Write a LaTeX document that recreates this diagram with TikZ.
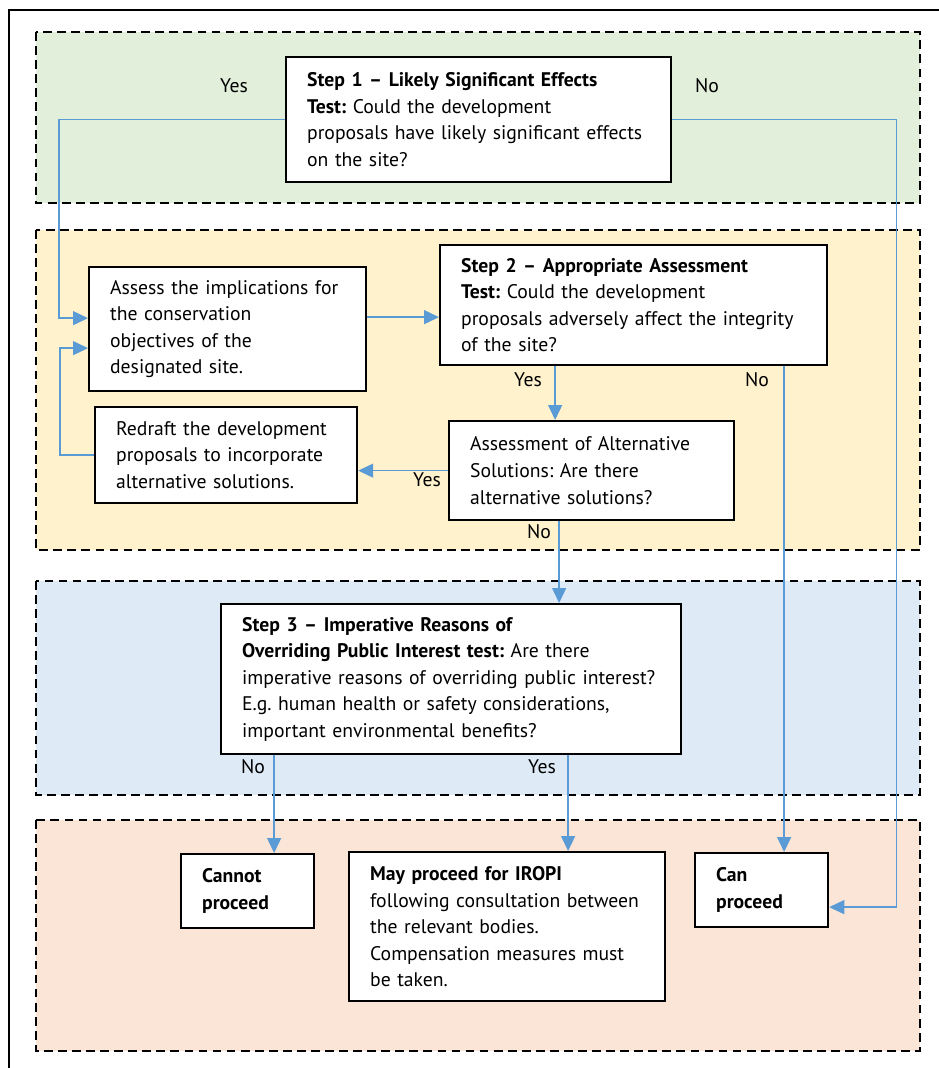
\documentclass[tikz,border=0pt]{standalone}
\usepackage{fontspec}
\setmainfont{PT Sans}
\usepackage{tikz}
\usetikzlibrary{arrows.meta}
\definecolor{stepgreen}{HTML}{E2EFDA}
\definecolor{stepyellow}{HTML}{FFF2CC}
\definecolor{stepblue}{HTML}{DEEBF7}
\definecolor{steporange}{HTML}{FBE5D6}
\definecolor{flowblue}{HTML}{5B9BD5}
\hyphenpenalty=10000
\frenchspacing
\tikzset{
panel/.style={draw=black, line width=1.1pt, dash pattern=on 5pt off 3pt},
stepbox/.style={draw=black, fill=white, line width=1.3pt, anchor=north west, align=left,
    inner xsep=0.42cm, inner ysep=0pt, font=\fontsize{11.2}{15.1}\selectfont},
answer/.style={font=\fontsize{11.2}{15.1}\selectfont},
flow/.style={draw=flowblue, line width=0.8pt, -{Triangle[length=0.3cm,width=0.28cm]}},
}
\begin{document}
\begin{tikzpicture}[x=0.02cm, y=-0.02cm]
    \useasboundingbox (0,0) rectangle (939,1068);
    \draw[line width=1.2pt] (9,1080) -- (9,10) -- (950,10);

                \filldraw[panel, fill=stepgreen] (36,32) rectangle (920,203);
                \filldraw[panel, fill=stepyellow] (36,230) rectangle (920,550);
                \filldraw[panel, fill=stepblue] (36,581) rectangle (920,795);
                \filldraw[panel, fill=steporange] (36,820) rectangle (920,1051);

                \node[stepbox, text width=6.86cm, minimum height=2.5cm] (s1) at (285,56)
                    {\textbf{Step 1 -- Likely Significant Effects}\\ \textbf{Test:} Could the development\\ proposals have likely significant effects\\ on the site?};
                \node[stepbox, text width=4.7cm, minimum height=2.48cm] (assess) at (88,266)
                    {Assess the implications for\\ the conservation\\ objectives of the\\ designated site.};
                \node[stepbox, text width=6.9cm, minimum height=2.4cm] (s2) at (439,244)
                    {\textbf{Step 2 -- Appropriate Assessment}\\ \textbf{Test:} Could the development\\ proposals adversely affect the integrity\\ of the site?};
                \node[stepbox, text width=4.4cm, minimum height=1.92cm] (redraft) at (94,406)
                    {Redraft the development\\ proposals to incorporate\\ alternative solutions.};
                \node[stepbox, text width=4.86cm, minimum height=1.98cm] (alt) at (448,420)
                    {Assessment of Alternative\\ Solutions: Are there\\ alternative solutions?};
                \node[stepbox, text width=8.36cm, minimum height=3.0cm] (s3) at (220,603)
                    {\textbf{Step 3 -- Imperative Reasons of}\\ \textbf{Overriding Public Interest test:} Are there\\ imperative reasons of overriding public interest?\\ E.g. human health or safety considerations,\\ important environmental benefits?};
                \node[stepbox, text width=1.82cm, minimum height=1.48cm] (cannot) at (180,853)
                    {\textbf{Cannot}\\ \textbf{proceed}};
                \node[stepbox, text width=5.48cm, minimum height=2.98cm] (may) at (348,851)
                    {\textbf{May proceed for IROPI}\\ following consultation between\\ the relevant bodies.\\ Compensation measures must\\ be taken.};
                \node[stepbox, text width=1.82cm, minimum height=1.48cm] (can) at (694,852)
                    {\textbf{Can}\\ \textbf{proceed}};

                \node[answer] (s1yes) at (234,86) {Yes};
                \node[answer] (s1no) at (707,86) {No};
                \node[answer] (s2yes) at (528,380) {Yes};
                \node[answer] (s2no) at (757,380) {No};
                \node[answer] (altyes) at (427,480) {Yes};
                \node[answer] (altno) at (539,532) {No};
                \node[answer] (s3no) at (253,767) {No};
                \node[answer] (s3yes) at (542,767) {Yes};

                \coordinate (yesin) at ([yshift=0.22cm]assess.west);
                \coordinate (backin) at ([yshift=-0.38cm]assess.west);
                \coordinate (canin) at ([yshift=-0.34cm]can.east);

                \draw[flow] (s1.west) -| ([xshift=-0.58cm]yesin) -- (yesin);
                \draw[flow] (s1.east) -| ([xshift=1.34cm]canin) -- (canin);
                \draw[flow] ([yshift=0.24cm]assess.east) -- ([yshift=0.24cm]assess.east -| s2.west);
                \draw[flow] ([xshift=-0.73cm]alt.north |- s2.south) -- ([xshift=-0.73cm]alt.north);
                \draw[flow] ([xshift=0.45cm]can.north |- s2.south) -- ([xshift=0.45cm]can.north);
                \draw[flow] (alt.west) -- (alt.west -| redraft.east);
                \draw[flow] (redraft.west) -| ([xshift=-0.56cm]backin) -- (backin);
                \draw[flow] ([xshift=-0.65cm]alt.south) -- ([xshift=-0.65cm]alt.south |- s3.north);
                \draw[flow] ([xshift=0.53cm]cannot.north |- s3.south) -- ([xshift=0.53cm]cannot.north);
                \draw[flow] ([xshift=1.22cm]may.north |- s3.south) -- ([xshift=1.22cm]may.north);

\end{tikzpicture}
\end{document}
